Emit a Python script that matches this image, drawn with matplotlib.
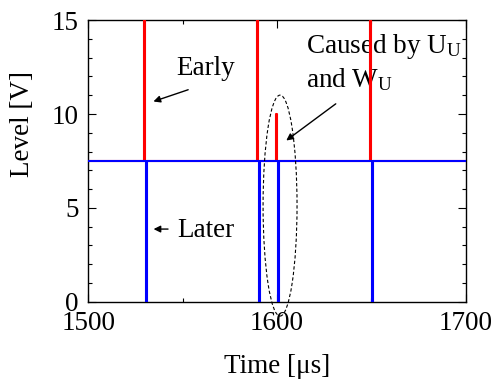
import numpy as np
import matplotlib
matplotlib.use("Agg")
import matplotlib.pyplot as plt
from matplotlib.patches import Ellipse
from matplotlib.ticker import MultipleLocator

plt.rcParams['font.family'] = ['Liberation Serif', 'DejaVu Serif']
plt.rcParams['mathtext.fontset'] = 'custom'
plt.rcParams['mathtext.rm'] = 'Liberation Serif'
plt.rcParams['mathtext.it'] = 'Liberation Serif:italic'

# signal data
t_start, t_end = 1500, 1700
baseline = 7.5
red_edges = [1529.4, 1589.4, 1599.5, 1649.4]   # early pulses (us)
red_peaks = [15, 15, 10, 15]                   # V
blue_edges = [1530.4, 1590.3, 1600.4, 1650.4]  # later pulses (us)
blue_lows = [0, 0, 0, 0]                       # V
pulse_width = 0.5


def step_signal(edges, levels):
    t = [t_start]
    v = [baseline]
    for e, lv in zip(edges, levels):
        t += [e, e, e + pulse_width, e + pulse_width]
        v += [baseline, lv, lv, baseline]
    t.append(t_end)
    v.append(baseline)
    return np.array(t), np.array(v)


red_t, red_v = step_signal(red_edges, red_peaks)
blue_t, blue_v = step_signal(blue_edges, blue_lows)

fig = plt.figure(figsize=(4.94, 3.8), dpi=100)
ax = fig.add_axes([0.1788, 0.206, 0.764, 0.741])

ax.plot(red_t, red_v, color='#ff0000', lw=1.5, zorder=3)
ax.plot(blue_t, blue_v, color='#0000ff', lw=1.5, zorder=4)

ax.set_xlim(1500, 1700)
ax.set_ylim(0, 15)
ax.xaxis.set_major_locator(MultipleLocator(100))
ax.xaxis.set_minor_locator(MultipleLocator(50))
ax.yaxis.set_major_locator(MultipleLocator(5))
ax.yaxis.set_minor_locator(MultipleLocator(1))
ax.tick_params(which='both', direction='in', top=True, right=True,
               labelsize=19.5, pad=7, width=0.8)
ax.tick_params(which='major', length=6)
ax.tick_params(which='minor', length=3)
for s in ax.spines.values():
    s.set_linewidth(1.0)

ax.set_xlabel('Time [\u03bcs]', fontsize=19.5)
ax.set_ylabel('Level [V]', fontsize=19.5)
ax.xaxis.set_label_coords(0.5, -0.185)
ax.yaxis.set_label_coords(-0.14, 0.63)

# annotations
arrow = dict(arrowstyle='-|>', color='black', lw=1.0, mutation_scale=10)
ax.annotate('', xy=(1533.1, 10.62), xytext=(1554.3, 11.34), arrowprops=arrow)
ax.text(1546.5, 12.07, 'Early', fontsize=19.5, va='baseline', zorder=1)

ax.annotate('', xy=(1533.1, 3.87), xytext=(1543.7, 3.87), arrowprops=arrow)
ax.text(1547, 3.46, 'Later', fontsize=19.5, va='baseline', zorder=1)

ax.annotate('', xy=(1603.7, 8.5), xytext=(1632.3, 10.63), arrowprops=arrow)
ax.text(1615.4, 13.23, r'Caused by U$_\mathrm{U}$', fontsize=19.5,
        va='baseline', zorder=1)
ax.text(1615.4, 11.42, r'and W$_\mathrm{U}$', fontsize=19.5,
        va='baseline', zorder=1)

ell = Ellipse((1601.6, 5.12), 18, 11.77, fill=False, ls=(0, (3, 2)),
              lw=0.8, color='black', clip_on=False, zorder=5)
ax.add_patch(ell)

fig.savefig('out.png', dpi=100)
